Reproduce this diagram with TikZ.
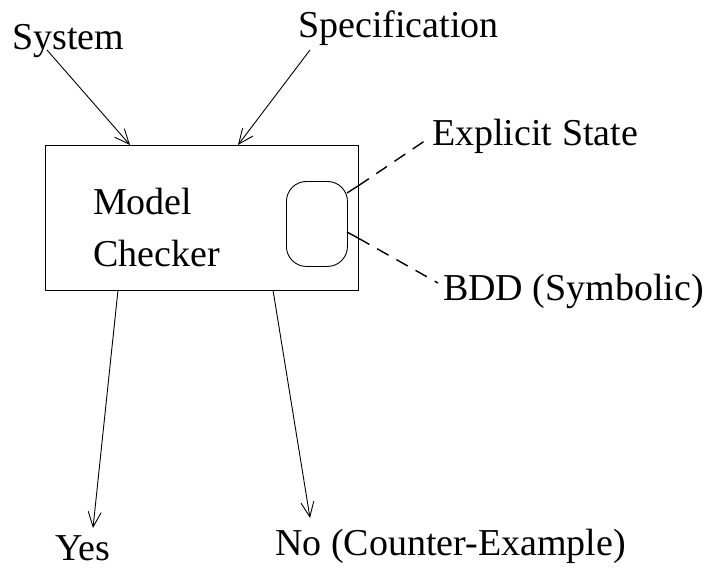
\documentclass[tikz,border=0pt]{standalone}
\usepackage{fontspec}
\setmainfont{Liberation Serif}
\usetikzlibrary{arrows.meta}

\tikzset{
    lbl/.style={inner sep=0pt, anchor=base west, font=\fontsize{38}{45}\selectfont},
    flow/.style={-{Straight Barb[length=15pt,width=13pt]}, line width=0.9pt},
    link/.style={line width=1.4pt, dash pattern=on 13pt off 9pt}
}

\begin{document}
\begin{tikzpicture}[x=1pt, y=-1pt]
    \useasboundingbox (0,0) rectangle (708,567);

    % Inputs
    \node[lbl] (sys) at (12,50) {System};
    \node[lbl] (spec) at (298,38) {Specification};

    % Model checker box
    \node[draw, line width=0.9pt, inner sep=0pt, minimum width=313pt, minimum height=145pt, anchor=north west] (mc) at (45,145) {};
    \node[lbl] (model) at (93,214) {Model};
    \node[lbl] (checker) at (93,266) {Checker};

    % Engine inside the box
    \node[draw, line width=0.9pt, rounded corners=20pt, inner sep=0pt, minimum width=61pt, minimum height=85pt, anchor=north west] (eng) at (286,181) {};

    % Outputs and engine kinds
    \node[lbl] (expl) at (432,145) {Explicit State};
    \node[lbl] (bdd) at (443,300) {BDD (Symbolic)};
    \node[lbl] (yes) at (55,560) {Yes};
    \node[lbl] (no) at (275,555) {No (Counter-Example)};

    % Connector ends
    \coordinate (sysout) at (47,50);
    \coordinate (sysin) at (130,145);
    \coordinate (specout) at (310,50);
    \coordinate (specin) at (238,145);
    \coordinate (yesout) at (118,290);
    \coordinate (yesin) at (93,528);
    \coordinate (noout) at (273,290);
    \coordinate (noin) at (310,518);
    \coordinate (e1) at (347,193);
    \coordinate (w1) at (358,186);
    \coordinate (t1) at (429,138);
    \coordinate (e2) at (347,232);
    \coordinate (w2) at (358,238);
    \coordinate (t2) at (438,283);

    % Arrows
    \draw[flow] (sysout) -- (sysin);
    \draw[flow] (specout) -- (specin);
    \draw[flow] (yesout) -- (yesin);
    \draw[flow] (noout) -- (noin);

    % Links to engine kinds
    \draw[line width=1.4pt] (e1) -- (w1);
    \draw[line width=1.4pt] (e2) -- (w2);
    \draw[link] (w1) -- (t1);
    \draw[link] (w2) -- (t2);
\end{tikzpicture}
\end{document}
